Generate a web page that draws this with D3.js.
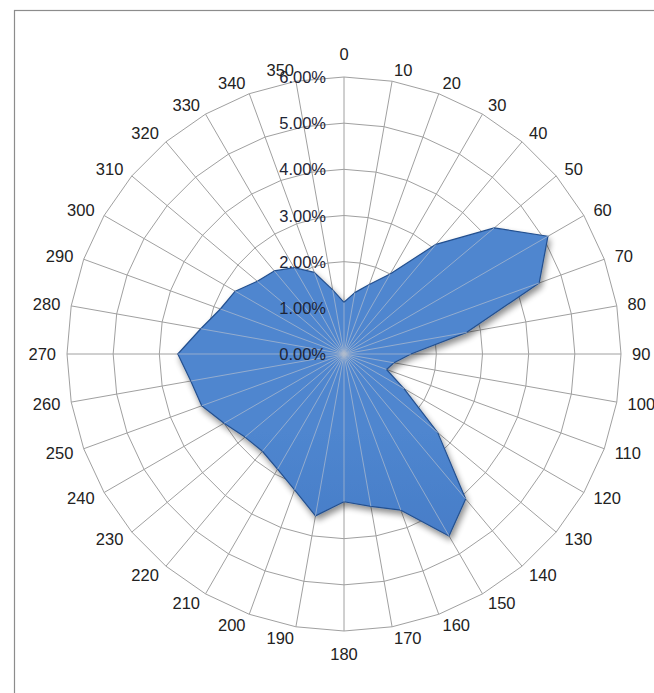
<!DOCTYPE html>
<html>
<head>
<meta charset="utf-8">
<script src="https://cdn.jsdelivr.net/npm/d3@7"></script>
<style>
  html, body { margin: 0; padding: 0; background: #fff; }
  svg { display: block; }
  text { font-family: "Liberation Sans", Arial, sans-serif; }
</style>
</head>
<body>
<svg id="chart" width="654" height="693"></svg>
<script>
// Wind direction categories (degrees) and frequency share per direction
const directions = [0, 10, 20, 30, 40, 50, 60, 70, 80, 90, 100, 110, 120, 130, 140, 150, 160, 170,
                    180, 190, 200, 210, 220, 230, 240, 250, 260, 270, 280, 290, 300, 310, 320, 330, 340, 350];
const frequency = [0.0112, 0.0135, 0.0160, 0.0200, 0.0310, 0.0425, 0.0510, 0.0450, 0.0270, 0.0145,
                   0.0110, 0.0098, 0.0150, 0.0265, 0.0410, 0.0455, 0.0360, 0.0335, 0.0320, 0.0356,
                   0.0313, 0.0288, 0.0275, 0.0280, 0.0300, 0.0328, 0.0337, 0.0360, 0.0315, 0.0285,
                   0.0272, 0.0245, 0.0235, 0.0216, 0.0188, 0.0141];
const radialTicks = [0, 0.01, 0.02, 0.03, 0.04, 0.05, 0.06];

const svg = d3.select("#chart");
const cx = 344, cy = 354, R = 277;

const rScale = d3.scaleLinear().domain([0, 0.06]).range([0, R]);
const aScale = d3.scaleLinear().domain([0, 360]).range([0, 2 * Math.PI]);
const fmt = d3.format(".2%");

// Chart frame
svg.append("rect")
  .attr("x", 14.5).attr("y", 10.5).attr("width", 700).attr("height", 720)
  .attr("fill", "#fff").attr("stroke", "#8c8c8c").attr("stroke-width", 1.2);

const defs = svg.append("defs");
const grad = defs.append("linearGradient")
  .attr("id", "fillGrad").attr("gradientUnits", "userSpaceOnUse")
  .attr("x1", 0).attr("y1", cy - R).attr("x2", 0).attr("y2", cy + R);
grad.append("stop").attr("offset", "0%").attr("stop-color", "#4f86cf");
grad.append("stop").attr("offset", "50%").attr("stop-color", "#3a6fbd");
grad.append("stop").attr("offset", "100%").attr("stop-color", "#275cab");

const shadow = defs.append("filter").attr("id", "shadow")
  .attr("x", "-20%").attr("y", "-20%").attr("width", "140%").attr("height", "140%");
shadow.append("feGaussianBlur").attr("in", "SourceAlpha").attr("stdDeviation", 3).attr("result", "b");
shadow.append("feOffset").attr("in", "b").attr("dx", 2).attr("dy", 4).attr("result", "o");
shadow.append("feComponentTransfer").attr("in", "o").attr("result", "s")
  .append("feFuncA").attr("type", "linear").attr("slope", 0.45);
const merge = shadow.append("feMerge");
merge.append("feMergeNode").attr("in", "s");
merge.append("feMergeNode").attr("in", "SourceGraphic");

const g = svg.append("g").attr("transform", `translate(${cx},${cy})`);

// Concentric gridlines (36-sided polygons)
const ring = t => d3.lineRadial()
  .angle(d => aScale(d))
  .radius(rScale(t))
  .curve(d3.curveLinearClosed)(directions);

g.append("g").selectAll("path")
  .data(radialTicks.filter(t => t > 0))
  .join("path")
  .attr("d", d => ring(d))
  .attr("fill", "none")
  .attr("stroke", "#a0a0a0")
  .attr("stroke-width", 1);

// Spokes
const spoke = (d, r) => {
  const a = aScale(d);
  return [Math.sin(a) * r, -Math.cos(a) * r];
};
g.append("g").selectAll("line")
  .data(directions)
  .join("line")
  .attr("x1", 0).attr("y1", 0)
  .attr("x2", d => spoke(d, R)[0])
  .attr("y2", d => spoke(d, R)[1])
  .attr("stroke", "#a0a0a0")
  .attr("stroke-width", 1);

// Data series
const area = d3.lineRadial()
  .angle((d, i) => aScale(directions[i]))
  .radius(d => rScale(d))
  .curve(d3.curveLinearClosed);

defs.append("clipPath").attr("id", "seriesClip")
  .append("path").attr("d", area(frequency)).attr("transform", `translate(${cx},${cy})`);

g.append("path")
  .attr("d", area(frequency))
  .attr("fill", "url(#fillGrad)")
  .attr("stroke", "#24508f")
  .attr("stroke-width", 1.2)
  .attr("stroke-linejoin", "round")
  .attr("filter", "url(#shadow)");

// Soft bevel highlight along the inner edge
svg.append("path")
  .attr("clip-path", "url(#seriesClip)")
  .attr("transform", `translate(${cx},${cy})`)
  .attr("d", area(frequency))
  .attr("fill", "none")
  .attr("stroke", "#ffffff")
  .attr("stroke-opacity", 0.15)
  .attr("stroke-width", 6);

// Spokes visible over the series
g.append("g").selectAll("line")
  .data(directions)
  .join("line")
  .attr("x1", 0).attr("y1", 0)
  .attr("x2", (d, i) => spoke(d, rScale(frequency[i]))[0])
  .attr("y2", (d, i) => spoke(d, rScale(frequency[i]))[1])
  .attr("stroke", "#b0bccd")
  .attr("stroke-opacity", 0.7)
  .attr("stroke-width", 1);

// Radial value labels
g.append("g").selectAll("text")
  .data(radialTicks)
  .join("text")
  .attr("x", -18)
  .attr("y", d => -rScale(d))
  .attr("text-anchor", "end")
  .attr("dominant-baseline", "central")
  .attr("font-size", 16.5)
  .attr("fill", "#1e2536")
  .text(d => fmt(d));

// Direction labels: anchored just outside the outer ring, text extends away from the centre
const labelR = R + 11;
g.append("g").selectAll("text")
  .data(directions)
  .join("text")
  .attr("x", d => spoke(d, labelR)[0])
  .attr("y", d => spoke(d, labelR)[1] + (d === 0 ? -12 : d === 180 ? 12 : 0))
  .attr("text-anchor", d => (d === 0 || d === 180) ? "middle" : d < 180 ? "start" : "end")
  .attr("dominant-baseline", "central")
  .attr("font-size", 16.5)
  .attr("fill", "#222")
  .text(d => d);
</script>
</body>
</html>
